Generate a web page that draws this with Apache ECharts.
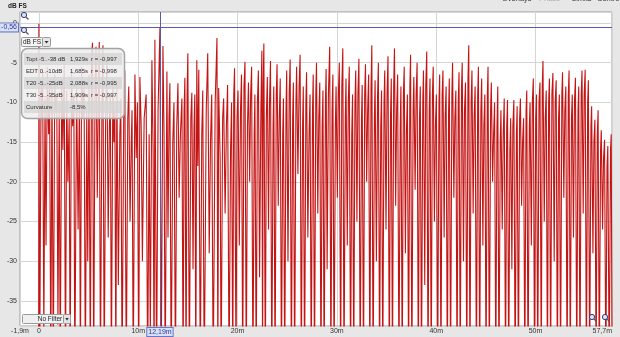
<!DOCTYPE html>
<html><head><meta charset="utf-8">
<script src="https://cdn.jsdelivr.net/npm/echarts@6/dist/echarts.min.js"></script>
<style>html,body{margin:0;padding:0;background:#e6e6e6;}#c{width:620px;height:337px;}</style>
</head><body><div id="c"></div>
<script>
// ---- data ----
const impulseDistance = [
  -0.03,0.00,0.08,0.22,0.30,0.38,0.50,0.62,0.72,0.85,
  0.98,1.08,1.20,1.32,1.45,1.60,1.70,1.80,1.92,2.05,
  2.15,2.30,2.42,2.55,2.68,2.80,2.92,3.05,3.15,3.28,
  3.40,3.52,3.62,3.80,3.95,4.08,4.18,4.30,4.42,4.55,
  4.68,4.82,4.92,5.05,5.18,5.30,5.40,5.52,5.65,5.75,
  5.88,6.00,6.08,6.20,6.35,6.45,6.58,6.72,6.85,6.98,
  7.10,7.20,7.30,7.45,7.55,7.65,7.75,7.85,8.00,8.15,
  8.25,8.38,8.55,8.65,8.80,8.95,9.05,9.18,9.30,9.38,
  9.50,9.67,9.80,9.92,10.05,10.17,10.30,10.42,10.60,10.80,
  10.95,11.10,11.22,11.38,11.50,11.60,11.68,11.85,12.00,12.19,
  12.32,12.49,12.60,12.72,12.89,13.00,13.10,13.19,13.32,13.48,
  13.60,13.75,13.88,14.00,14.12,14.25,14.40,14.52,14.62,14.70,
  14.82,14.92,15.00,15.15,15.30,15.40,15.52,15.62,15.70,15.80,
  15.90,16.00,16.10,16.25,16.40,16.50,16.65,16.85,17.00,17.15,
  17.28,17.40,17.55,17.75,17.93,18.02,18.10,18.25,18.35,18.50,
  18.60,18.75,18.88,19.00,19.15,19.30,19.40,19.52,19.62,19.70,
  19.85,19.95,20.05,20.18,20.30,20.40,20.52,20.65,20.75,20.88,
  21.00,21.10,21.22,21.32,21.42,21.55,21.68,21.75,21.88,22.00,
  22.10,22.22,22.35,22.45,22.52,22.58,22.65,22.80,22.90,23.00,
  23.12,23.22,23.32,23.45,23.58,23.65,23.78,23.90,23.98,24.10,
  24.20,24.30,24.42,24.55,24.62,24.75,24.88,24.95,25.08,25.20,
  25.30,25.42,25.55,25.62,25.75,25.88,25.95,26.08,26.20,26.30,
  26.42,26.55,26.62,26.75,26.88,26.95,27.08,27.20,27.30,27.42,
  27.55,27.62,27.75,27.88,27.95,28.08,28.18,28.28,28.40,28.52,
  28.60,28.72,28.85,28.92,29.02,29.15,29.28,29.40,29.52,29.60,
  29.72,29.85,29.92,30.05,30.15,30.25,30.38,30.50,30.60,30.72,
  30.85,30.92,31.05,31.15,31.25,31.38,31.50,31.58,31.70,31.82,
  31.90,32.02,32.12,32.22,32.35,32.48,32.55,32.68,32.80,32.88,
  33.00,33.10,33.20,33.32,33.44,33.52,33.65,33.78,33.85,33.98,
  34.10,34.18,34.30,34.42,34.50,34.62,34.75,34.82,34.95,35.05,
  35.15,35.28,35.40,35.48,35.60,35.72,35.80,35.92,36.02,36.12,
  36.25,36.38,36.45,36.58,36.70,36.78,36.90,37.00,37.10,37.22,
  37.35,37.42,37.55,37.68,37.75,37.88,37.98,38.08,38.20,38.32,
  38.40,38.52,38.65,38.72,38.85,38.95,39.05,39.18,39.30,39.38,
  39.50,39.62,39.70,39.82,39.92,40.02,40.15,40.28,40.35,40.48,
  40.60,40.68,40.80,40.90,41.00,41.12,41.25,41.32,41.45,41.58,
  41.65,41.78,41.88,41.98,42.10,42.22,42.30,42.42,42.55,42.62,
  42.75,42.85,42.95,43.08,43.20,43.28,43.40,43.52,43.60,43.72,
  43.82,43.92,44.05,44.18,44.25,44.38,44.50,44.58,44.70,44.80,
  44.90,45.02,45.15,45.22,45.35,45.48,45.55,45.68,45.78,45.88,
  46.00,46.12,46.20,46.32,46.45,46.52,46.65,46.75,46.85,46.98,
  47.10,47.18,47.30,47.42,47.50,47.62,47.72,47.82,47.95,48.08,
  48.15,48.28,48.40,48.48,48.60,48.70,48.80,48.92,49.05,49.12,
  49.25,49.38,49.45,49.58,49.68,49.78,49.90,50.02,50.10,50.22,
  50.35,50.45,50.58,50.68,50.75,50.88,50.98,51.08,51.20,51.32,
  51.40,51.52,51.65,51.75,51.88,51.98,52.08,52.20,52.32,52.40,
  52.52,52.65,52.72,52.85,52.95,53.05,53.18,53.30,53.38,53.50,
  53.62,53.70,53.82,53.92,54.02,54.15,54.28,54.35,54.48,54.60,
  54.68,54.80,54.90,55.00,55.12,55.25,55.32,55.45,55.58,55.65,
  55.78,55.88,55.98,56.10,56.22,56.30,56.42,56.55,56.62,56.75,
  56.85,56.95,57.08,57.20,57.28,57.42,57.55,57.62,57.72
];
const impulseLevel = [
  -60,-0.1,-45,-8,-12,-6,-40,-9.5,-28,-5.5,
  -14,-8,-45,-7,-45,-6.5,-11,-9,-38,-10,
  -45,-7,-16,-5,-45,-8.5,-20,-12,-45,-6,
  -13,-9,-45,-7.5,-26,-10,-45,-5.5,-12,-8,
  -45,-11,-30,-6.5,-45,-4,-2.5,-45,-9,-3.0,
  -22,-8,-2.4,-45,-10,-2.8,-45,-12,-4.7,-27,
  -13,-9,-45,-6.8,-15,-11,-45,-7.2,-33,-14,
  -9.5,-45,-10,-6,-45,-12,-8,-25,-15,-11,
  -45,-6.5,-17,-10,-45,-6.8,-13,-30,-12,-9,
  -45,-14,-40,-4.7,-16,-45,-2.1,-45,-11,-0.56,
  -45,-2.9,-14,-45,-6.1,-27,-12,-7.6,-45,-15,
  -10,-45,-13,-7.6,-22,-14,-9.5,-45,-11,-6.9,
  -45,-9,-3.8,-45,-12,-8.8,-31,-13,-9.0,-45,
  -4.7,-18,-5.9,-45,-14,-8.5,-45,-11,-3.8,-29,
  -15,-9.0,-45,-10,-1.9,-45,-8.2,-17,-45,-12,
  -9.5,-24,-13,-7.8,-45,-16,-10,-45,-9,-5.7,
  -45,-12,-8.5,-28,-11,-6.5,-45,-8,-4.9,-45,
  -13,-7.5,-20,-9,-5.5,-45,-14,-9.0,-45,-10,
  -6.0,-32,-11,-3.5,-45,-8,-2.6,-45,-12,-6.8,
  -26,-10,-4.8,-45,-13,-8.0,-45,-9,-5.2,-23,
  -12,-7.0,-45,-14,-9.5,-45,-11,-6.0,-30,-9,
  -4.6,-45,-12,-7.5,-45,-10,-5.5,-19,-8,-4.0,
  -45,-13,-8.0,-45,-10,-6.2,-27,-14,-9.0,-45,
  -11,-6.5,-45,-9,-5.0,-24,-12,-7.5,-45,-13,
  -8.5,-45,-10,-5.8,-31,-9,-3.0,-45,-11,-6.5,
  -45,-13,-8.0,-22,-9,-5.0,-45,-8,-3.2,-45,
  -12,-7.0,-28,-10,-5.5,-45,-14,-9.0,-45,-10,
  -6.0,-25,-9,-4.5,-45,-12,-7.8,-45,-9,-5.2,
  -20,-11,-6.5,-45,-8,-2.8,-45,-12,-7.2,-30,
  -9,-5.0,-45,-13,-8.5,-45,-10,-6.0,-26,-9,
  -4.2,-45,-12,-7.0,-45,-8,-3.2,-23,-11,-6.5,
  -45,-13,-8.0,-45,-9,-5.5,-29,-14,-9.0,-45,
  -8,-4.0,-45,-11,-6.8,-21,-9,-5.0,-45,-12,
  -8.0,-45,-10,-6.0,-33,-8,-3.6,-45,-11,-7.0,
  -45,-9,-5.5,-25,-13,-9.0,-45,-10,-6.5,-45,
  -9,-6.0,-27,-12,-8.0,-45,-11,-7.0,-45,-9,
  -5.0,-22,-12,-8.5,-45,-10,-6.2,-45,-8,-5.0,
  -30,-11,-7.5,-45,-7,-2.8,-45,-10,-6.0,-24,
  -12,-8.0,-45,-9,-5.5,-45,-11,-7.0,-28,-13,
  -9.0,-45,-9,-5.5,-45,-11,-7.5,-20,-14,-10.0,
  -45,-13,-8.0,-45,-15,-11.0,-26,-14,-9.5,-45,
  -13,-9.7,-45,-16,-12.0,-31,-13,-9.7,-45,-14,
  -10.5,-45,-12,-9.5,-23,-15,-12.0,-45,-11,-8.5,
  -45,-13,-10.0,-28,-10,-7.0,-45,-12,-9.0,-45,
  -10,-7.5,-45,-8,-4.8,-25,-12,-8.5,-45,-10,
  -7.0,-45,-9,-6.3,-30,-10,-7.2,-45,-12,-9.0,
  -45,-9,-6.2,-22,-11,-8.0,-45,-9,-6.0,-45,
  -12,-9.0,-27,-10,-6.9,-45,-11,-8.0,-45,-9,
  -6.0,-24,-9,-5.9,-45,-10,-7.2,-45,-13,-10.5,
  -29,-15,-12.2,-45,-14,-11.0,-45,-16,-13.5,-26,
  -17,-14.7,-45,-18,-15.5,-45,-16,-14.0,-45
];
const xExtent = [-1.9, 57.7];      // metres
const yExtent = [-38.15, 1.38];    // dB FS
const cursorDistance = 12.19;
const cursorLevel = -0.56;
const decayNames = ['Topt -5..-38 dB', 'EDT 0..-10dB', 'T20 -5..-25dB', 'T30 -5..-35dB', 'Curvature'];
const decayTimes = ['1,929s', '1,685s', '2,088s', '1,909s', '-8,5%'];
const decayR = ['r = -0,997', 'r = -0,998', 'r = -0,995', 'r = -0,997', ''];
const menuItems = ['Overlays', 'Phase', 'Limits', 'Controls'];

// ---- chart ----
const FONT = '"Liberation Sans", Arial, sans-serif';
const fmt = v => String(Math.round(v * 100) / 100).replace('.', ',');
const chart = echarts.init(document.getElementById('c'), null, {renderer: 'canvas'});

const seriesData = impulseDistance.map((d, i) => [d, impulseLevel[i]]);

const g = [];
g.push({type: 'text', z: 100, style: {text: 'dB FS', x: 8, y: 6, fill: '#222', font: 'bold 6.5px ' + FONT, align: 'left', verticalAlign: 'middle'}});
const menuX = [502, 539, 572, 597];
menuItems.forEach((t, i) => g.push({type: 'text', z: 100, style: {text: t, x: menuX[i], y: -1, fill: i === 1 ? '#aaa' : '#333', font: '7.5px ' + FONT, align: 'left', verticalAlign: 'middle'}}));
[[25, 16], [25, 31], [593, 318], [606, 318]].forEach(p => {
  g.push({type: 'circle', z: 100, shape: {cx: p[0] - 1, cy: p[1] - 1, r: 2.6}, style: {fill: '#dfe4f4', stroke: '#2b3a78', lineWidth: 1}});
  g.push({type: 'line', z: 100, shape: {x1: p[0] + 1, y1: p[1] + 1, x2: p[0] + 3.5, y2: p[1] + 3.5}, style: {stroke: '#555', lineWidth: 1.2}});
});
g.push({type: 'rect', z: 100, shape: {x: 21.5, y: 37.5, width: 21, height: 9, r: 1}, style: {fill: '#f3f3f3', stroke: '#9a9a9a', lineWidth: 1}});
g.push({type: 'text', z: 101, style: {text: 'dB FS', x: 32, y: 42, fill: '#222', font: '6.5px ' + FONT, align: 'center', verticalAlign: 'middle'}});
g.push({type: 'rect', z: 100, shape: {x: 42.5, y: 37.5, width: 8, height: 9, r: 1}, style: {fill: '#e6e6e6', stroke: '#9a9a9a', lineWidth: 1}});
g.push({type: 'polygon', z: 101, shape: {points: [[44.5, 41], [48.5, 41], [46.5, 43.5]]}, style: {fill: '#333'}});
g.push({type: 'rect', z: 100, shape: {x: 21.5, y: 48.5, width: 103, height: 70, r: 6}, style: {fill: 'rgba(238,238,238,0.86)', stroke: '#a3a3a3', lineWidth: 1.5}});
decayNames.forEach((t, i) => {
  const cy = 59 + i * 12;
  if (i % 2 === 0) g.push({type: 'rect', z: 100, shape: {x: 24, y: cy - 6, width: 98, height: 12}, style: {fill: 'rgba(212,212,212,0.75)'}});
  g.push({type: 'text', z: 101, style: {text: t, x: 26, y: cy, fill: '#2a2a2a', font: '6px ' + FONT, align: 'left', verticalAlign: 'middle'}});
  g.push({type: 'text', z: 101, style: {text: decayTimes[i], x: 70, y: cy, fill: '#2a2a2a', font: '6px ' + FONT, align: 'left', verticalAlign: 'middle'}});
  g.push({type: 'text', z: 101, style: {text: decayR[i], x: 91, y: cy, fill: '#2a2a2a', font: '6px ' + FONT, align: 'left', verticalAlign: 'middle'}});
});
g.push({type: 'rect', z: 100, shape: {x: 22.5, y: 314.5, width: 41, height: 9, r: 1}, style: {fill: '#f0f0f0', stroke: '#9a9a9a', lineWidth: 1}});
g.push({type: 'text', z: 101, style: {text: 'No Filter', x: 50, y: 319, fill: '#222', font: '6.5px ' + FONT, align: 'center', verticalAlign: 'middle'}});
g.push({type: 'rect', z: 100, shape: {x: 63.5, y: 314.5, width: 7, height: 9, r: 1}, style: {fill: '#e4e4e4', stroke: '#9a9a9a', lineWidth: 1}});
g.push({type: 'polygon', z: 101, shape: {points: [[65.2, 318], [68.8, 318], [67, 320.5]]}, style: {fill: '#333'}});

const cursorLabel = {
  show: true, position: 'start', fontSize: 7, fontFamily: FONT, color: '#2a3a9a',
  backgroundColor: '#d9e0f7', borderColor: '#6878c8', borderWidth: 1, padding: [1, 1, 0, 1], distance: 2
};

chart.setOption({
  animation: false,
  backgroundColor: '#e7e7e7',
  grid: {left: 20, top: 12, right: 8, bottom: 11, show: true, backgroundColor: '#ffffff', borderColor: '#9c9c9c', borderWidth: 1},
  xAxis: {
    type: 'value', min: xExtent[0], max: xExtent[1], splitNumber: 6,
    axisLine: {show: false}, axisTick: {show: false},
    splitLine: {show: true, lineStyle: {color: '#d5d5d5', width: 1}},
    axisLabel: {
      fontSize: 7, fontFamily: FONT, color: '#333', margin: 2,
      showMinLabel: true, showMaxLabel: true, alignMaxLabel: 'right',
      formatter: v => v === 0 ? '0' : fmt(v) + 'm'
    }
  },
  yAxis: {
    type: 'value', min: yExtent[0], max: yExtent[1], splitNumber: 8,
    axisLine: {show: false}, axisTick: {show: false},
    splitLine: {show: true, lineStyle: {color: '#d5d5d5', width: 1}},
    axisLabel: {
      fontSize: 7, fontFamily: FONT, color: '#333', margin: 3,
      showMinLabel: false, showMaxLabel: false,
      formatter: v => String(v)
    }
  },
  series: [{
    type: 'line', data: seriesData, showSymbol: false, clip: true, z: 2,
    lineStyle: {color: '#c41414', width: 1.1},
    markLine: {
      silent: true, symbol: ['none', 'none'], animation: false,
      lineStyle: {color: '#5a5aa8', width: 1, type: 'solid'},
      data: [
        {xAxis: cursorDistance, label: Object.assign({}, cursorLabel, {formatter: () => fmt(cursorDistance) + 'm'})},
        {yAxis: cursorLevel, label: Object.assign({}, cursorLabel, {formatter: () => fmt(cursorLevel)})}
      ]
    }
  }],
  graphic: {elements: g}
});
</script></body></html>
